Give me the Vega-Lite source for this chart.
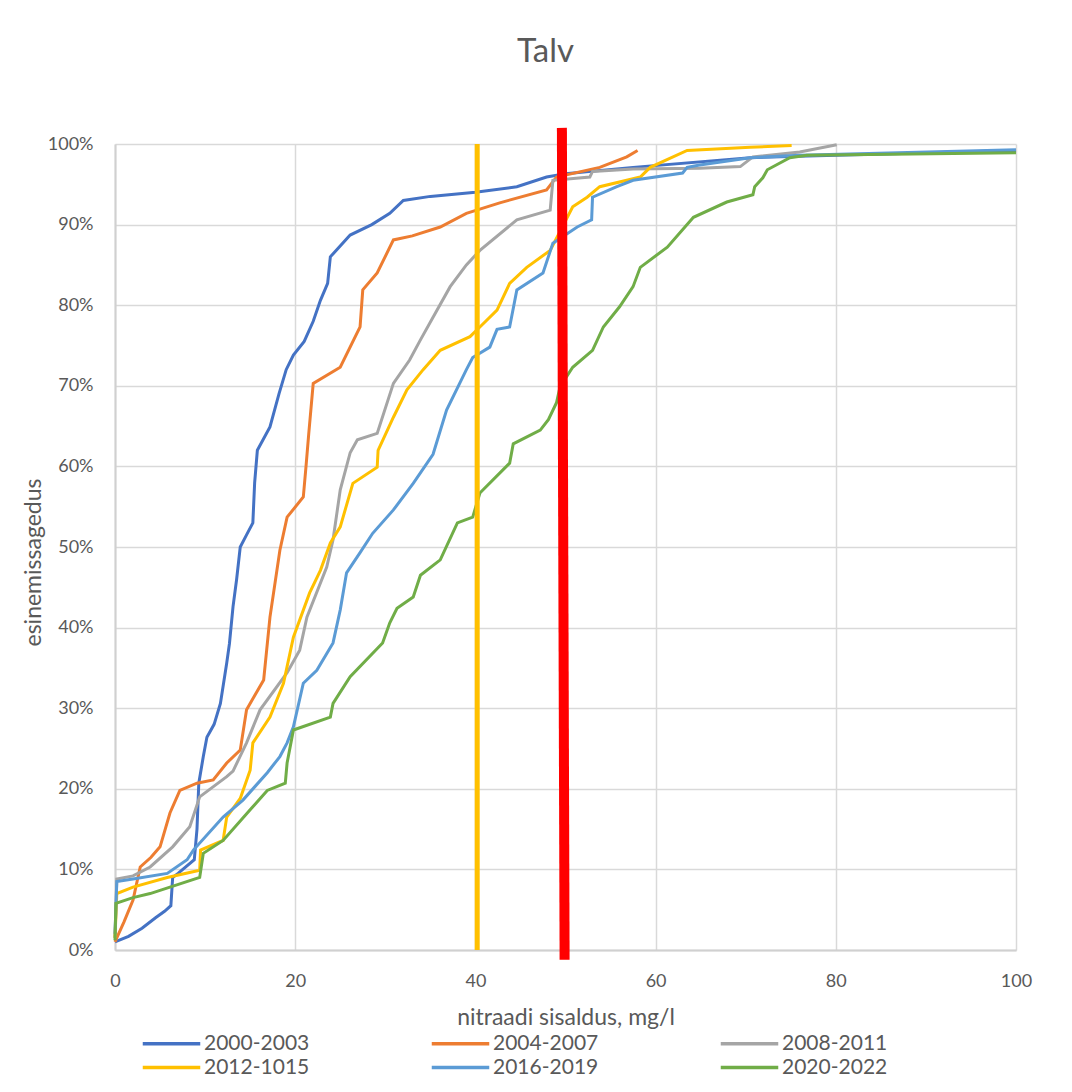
{
  "$schema": "https://vega.github.io/schema/vega-lite/v6.json",
  "width": 901,
  "height": 806,
  "autosize": "none",
  "padding": {"left": 115, "top": 144, "right": 56, "bottom": 142},
  "background": "white",
  "config": {
    "font": "Lato",
    "view": {"stroke": null},
    "axis": {
      "labelFont": "Lato", "labelFontSize": 18, "labelColor": "#595959",
      "titleFont": "Lato", "titleFontSize": 23, "titleColor": "#595959", "titleFontWeight": "normal",
      "gridColor": "#D9D9D9", "gridWidth": 1.5, "domainColor": "#D0D0D0", "domainWidth": 2,
      "ticks": false, "tickSize": 0, "labelFlush": false
    }
  },
  "title": {
    "text": "Talv", "font": "Lato", "fontSize": 33, "fontWeight": "normal", "color": "#595959",
    "anchor": "middle", "frame": "group", "offset": 39, "dx": -20
  },
  "datasets": {
    "cdf": [
      {"s": "2000-2003", "x": 0, "p": 0.010}, {"s": "2000-2003", "x": 1.5, "p": 0.017}, {"s": "2000-2003", "x": 3, "p": 0.027},
      {"s": "2000-2003", "x": 4.5, "p": 0.040}, {"s": "2000-2003", "x": 5.5, "p": 0.048}, {"s": "2000-2003", "x": 6.2, "p": 0.055},
      {"s": "2000-2003", "x": 6.4, "p": 0.090}, {"s": "2000-2003", "x": 7, "p": 0.095}, {"s": "2000-2003", "x": 8.8, "p": 0.112},
      {"s": "2000-2003", "x": 9.1, "p": 0.150}, {"s": "2000-2003", "x": 9.3, "p": 0.207}, {"s": "2000-2003", "x": 9.8, "p": 0.240},
      {"s": "2000-2003", "x": 10.2, "p": 0.264}, {"s": "2000-2003", "x": 11, "p": 0.280}, {"s": "2000-2003", "x": 11.7, "p": 0.306},
      {"s": "2000-2003", "x": 12.4, "p": 0.356}, {"s": "2000-2003", "x": 12.7, "p": 0.380}, {"s": "2000-2003", "x": 13.1, "p": 0.426},
      {"s": "2000-2003", "x": 13.5, "p": 0.460}, {"s": "2000-2003", "x": 13.9, "p": 0.500}, {"s": "2000-2003", "x": 14.6, "p": 0.515},
      {"s": "2000-2003", "x": 15.3, "p": 0.530}, {"s": "2000-2003", "x": 15.5, "p": 0.580}, {"s": "2000-2003", "x": 15.8, "p": 0.620},
      {"s": "2000-2003", "x": 17.2, "p": 0.649}, {"s": "2000-2003", "x": 18.2, "p": 0.690}, {"s": "2000-2003", "x": 19, "p": 0.720},
      {"s": "2000-2003", "x": 19.8, "p": 0.738}, {"s": "2000-2003", "x": 21, "p": 0.755}, {"s": "2000-2003", "x": 22, "p": 0.780},
      {"s": "2000-2003", "x": 22.8, "p": 0.806}, {"s": "2000-2003", "x": 23.6, "p": 0.827}, {"s": "2000-2003", "x": 23.9, "p": 0.860},
      {"s": "2000-2003", "x": 26.1, "p": 0.887}, {"s": "2000-2003", "x": 28.5, "p": 0.900}, {"s": "2000-2003", "x": 30.5, "p": 0.914},
      {"s": "2000-2003", "x": 32, "p": 0.930}, {"s": "2000-2003", "x": 35, "p": 0.935}, {"s": "2000-2003", "x": 40, "p": 0.940},
      {"s": "2000-2003", "x": 44.6, "p": 0.947}, {"s": "2000-2003", "x": 47.9, "p": 0.959}, {"s": "2000-2003", "x": 50, "p": 0.963},
      {"s": "2000-2003", "x": 57.5, "p": 0.971}, {"s": "2000-2003", "x": 70.5, "p": 0.983}, {"s": "2000-2003", "x": 80, "p": 0.986},
      {"s": "2000-2003", "x": 100, "p": 0.992},

      {"s": "2004-2007", "x": 0, "p": 0.010}, {"s": "2004-2007", "x": 1, "p": 0.035}, {"s": "2004-2007", "x": 2, "p": 0.062},
      {"s": "2004-2007", "x": 2.8, "p": 0.103}, {"s": "2004-2007", "x": 4, "p": 0.115}, {"s": "2004-2007", "x": 5, "p": 0.128},
      {"s": "2004-2007", "x": 6.1, "p": 0.170}, {"s": "2004-2007", "x": 7.2, "p": 0.198}, {"s": "2004-2007", "x": 9.1, "p": 0.207},
      {"s": "2004-2007", "x": 10.9, "p": 0.211}, {"s": "2004-2007", "x": 12.4, "p": 0.232}, {"s": "2004-2007", "x": 13.9, "p": 0.248},
      {"s": "2004-2007", "x": 14.6, "p": 0.298}, {"s": "2004-2007", "x": 16.5, "p": 0.335}, {"s": "2004-2007", "x": 17.2, "p": 0.413},
      {"s": "2004-2007", "x": 18.3, "p": 0.496}, {"s": "2004-2007", "x": 19.1, "p": 0.537}, {"s": "2004-2007", "x": 20.9, "p": 0.562},
      {"s": "2004-2007", "x": 21.2, "p": 0.600}, {"s": "2004-2007", "x": 21.5, "p": 0.640}, {"s": "2004-2007", "x": 22, "p": 0.703},
      {"s": "2004-2007", "x": 25, "p": 0.723}, {"s": "2004-2007", "x": 27.2, "p": 0.773}, {"s": "2004-2007", "x": 27.5, "p": 0.819},
      {"s": "2004-2007", "x": 29.1, "p": 0.840}, {"s": "2004-2007", "x": 30.9, "p": 0.881}, {"s": "2004-2007", "x": 33, "p": 0.886},
      {"s": "2004-2007", "x": 36.1, "p": 0.897}, {"s": "2004-2007", "x": 39, "p": 0.914}, {"s": "2004-2007", "x": 42.7, "p": 0.927},
      {"s": "2004-2007", "x": 47.9, "p": 0.943}, {"s": "2004-2007", "x": 49, "p": 0.959}, {"s": "2004-2007", "x": 53.8, "p": 0.971},
      {"s": "2004-2007", "x": 56.8, "p": 0.984}, {"s": "2004-2007", "x": 58, "p": 0.992},

      {"s": "2008-2011", "x": 0, "p": 0.015}, {"s": "2008-2011", "x": 0.2, "p": 0.088}, {"s": "2008-2011", "x": 2, "p": 0.092},
      {"s": "2008-2011", "x": 3.9, "p": 0.103}, {"s": "2008-2011", "x": 6.4, "p": 0.128}, {"s": "2008-2011", "x": 8.3, "p": 0.153},
      {"s": "2008-2011", "x": 9.4, "p": 0.190}, {"s": "2008-2011", "x": 12.4, "p": 0.215}, {"s": "2008-2011", "x": 13.1, "p": 0.222},
      {"s": "2008-2011", "x": 14.6, "p": 0.257}, {"s": "2008-2011", "x": 16.1, "p": 0.298}, {"s": "2008-2011", "x": 19.1, "p": 0.344},
      {"s": "2008-2011", "x": 20.5, "p": 0.372}, {"s": "2008-2011", "x": 21.3, "p": 0.413}, {"s": "2008-2011", "x": 23.5, "p": 0.475},
      {"s": "2008-2011", "x": 24.2, "p": 0.509}, {"s": "2008-2011", "x": 25, "p": 0.571}, {"s": "2008-2011", "x": 26.1, "p": 0.617},
      {"s": "2008-2011", "x": 26.9, "p": 0.633}, {"s": "2008-2011", "x": 29.1, "p": 0.641}, {"s": "2008-2011", "x": 30.9, "p": 0.703},
      {"s": "2008-2011", "x": 32.7, "p": 0.732}, {"s": "2008-2011", "x": 33.9, "p": 0.757}, {"s": "2008-2011", "x": 35.3, "p": 0.785},
      {"s": "2008-2011", "x": 37.2, "p": 0.823}, {"s": "2008-2011", "x": 39, "p": 0.850}, {"s": "2008-2011", "x": 40.5, "p": 0.868},
      {"s": "2008-2011", "x": 44.6, "p": 0.906}, {"s": "2008-2011", "x": 48.3, "p": 0.918}, {"s": "2008-2011", "x": 48.6, "p": 0.955},
      {"s": "2008-2011", "x": 52.7, "p": 0.959}, {"s": "2008-2011", "x": 53, "p": 0.966}, {"s": "2008-2011", "x": 57.5, "p": 0.969},
      {"s": "2008-2011", "x": 64.9, "p": 0.970}, {"s": "2008-2011", "x": 69.4, "p": 0.972}, {"s": "2008-2011", "x": 70.8, "p": 0.984},
      {"s": "2008-2011", "x": 76, "p": 0.990}, {"s": "2008-2011", "x": 80.1, "p": 0.999},

      {"s": "2012-1015", "x": 0, "p": 0.015}, {"s": "2012-1015", "x": 0.2, "p": 0.070}, {"s": "2012-1015", "x": 2, "p": 0.078},
      {"s": "2012-1015", "x": 5.8, "p": 0.090}, {"s": "2012-1015", "x": 9.4, "p": 0.099}, {"s": "2012-1015", "x": 9.5, "p": 0.124},
      {"s": "2012-1015", "x": 12, "p": 0.136}, {"s": "2012-1015", "x": 12.4, "p": 0.165}, {"s": "2012-1015", "x": 13.9, "p": 0.188},
      {"s": "2012-1015", "x": 15, "p": 0.223}, {"s": "2012-1015", "x": 15.3, "p": 0.257}, {"s": "2012-1015", "x": 17.2, "p": 0.289},
      {"s": "2012-1015", "x": 18.7, "p": 0.331}, {"s": "2012-1015", "x": 19.8, "p": 0.388}, {"s": "2012-1015", "x": 21.6, "p": 0.443},
      {"s": "2012-1015", "x": 22.8, "p": 0.471}, {"s": "2012-1015", "x": 23.9, "p": 0.505}, {"s": "2012-1015", "x": 25, "p": 0.525},
      {"s": "2012-1015", "x": 26.4, "p": 0.579}, {"s": "2012-1015", "x": 29.1, "p": 0.599}, {"s": "2012-1015", "x": 29.2, "p": 0.620},
      {"s": "2012-1015", "x": 30.9, "p": 0.661}, {"s": "2012-1015", "x": 32.4, "p": 0.695}, {"s": "2012-1015", "x": 34.2, "p": 0.720},
      {"s": "2012-1015", "x": 36.1, "p": 0.744}, {"s": "2012-1015", "x": 39.4, "p": 0.761}, {"s": "2012-1015", "x": 40.5, "p": 0.773},
      {"s": "2012-1015", "x": 42.4, "p": 0.794}, {"s": "2012-1015", "x": 43.8, "p": 0.827}, {"s": "2012-1015", "x": 45.7, "p": 0.847},
      {"s": "2012-1015", "x": 48.3, "p": 0.868}, {"s": "2012-1015", "x": 50.2, "p": 0.909}, {"s": "2012-1015", "x": 50.8, "p": 0.922},
      {"s": "2012-1015", "x": 52.4, "p": 0.934}, {"s": "2012-1015", "x": 53.8, "p": 0.947}, {"s": "2012-1015", "x": 58.3, "p": 0.959},
      {"s": "2012-1015", "x": 59.4, "p": 0.971}, {"s": "2012-1015", "x": 63.5, "p": 0.992}, {"s": "2012-1015", "x": 70.5, "p": 0.996},
      {"s": "2012-1015", "x": 75.1, "p": 0.998},

      {"s": "2016-2019", "x": 0, "p": 0.020}, {"s": "2016-2019", "x": 0.2, "p": 0.085}, {"s": "2016-2019", "x": 2, "p": 0.088},
      {"s": "2016-2019", "x": 5.8, "p": 0.095}, {"s": "2016-2019", "x": 8, "p": 0.112}, {"s": "2016-2019", "x": 8.7, "p": 0.124},
      {"s": "2016-2019", "x": 12, "p": 0.165}, {"s": "2016-2019", "x": 14.2, "p": 0.186}, {"s": "2016-2019", "x": 16.9, "p": 0.220},
      {"s": "2016-2019", "x": 18.3, "p": 0.240}, {"s": "2016-2019", "x": 19.1, "p": 0.257}, {"s": "2016-2019", "x": 19.8, "p": 0.277},
      {"s": "2016-2019", "x": 20.9, "p": 0.331}, {"s": "2016-2019", "x": 22.4, "p": 0.347}, {"s": "2016-2019", "x": 24.2, "p": 0.381},
      {"s": "2016-2019", "x": 25, "p": 0.422}, {"s": "2016-2019", "x": 25.7, "p": 0.468}, {"s": "2016-2019", "x": 27.2, "p": 0.493},
      {"s": "2016-2019", "x": 28.6, "p": 0.517}, {"s": "2016-2019", "x": 30.9, "p": 0.546}, {"s": "2016-2019", "x": 33.1, "p": 0.579},
      {"s": "2016-2019", "x": 35.3, "p": 0.615}, {"s": "2016-2019", "x": 36.8, "p": 0.670}, {"s": "2016-2019", "x": 39, "p": 0.720},
      {"s": "2016-2019", "x": 39.7, "p": 0.735}, {"s": "2016-2019", "x": 41.6, "p": 0.748}, {"s": "2016-2019", "x": 42.4, "p": 0.770},
      {"s": "2016-2019", "x": 43.8, "p": 0.773}, {"s": "2016-2019", "x": 44.6, "p": 0.819}, {"s": "2016-2019", "x": 47.5, "p": 0.840},
      {"s": "2016-2019", "x": 48.6, "p": 0.877}, {"s": "2016-2019", "x": 51.3, "p": 0.897}, {"s": "2016-2019", "x": 52.9, "p": 0.906},
      {"s": "2016-2019", "x": 53, "p": 0.934}, {"s": "2016-2019", "x": 55.7, "p": 0.947}, {"s": "2016-2019", "x": 57.5, "p": 0.955},
      {"s": "2016-2019", "x": 63, "p": 0.964}, {"s": "2016-2019", "x": 63.5, "p": 0.971}, {"s": "2016-2019", "x": 64.9, "p": 0.974},
      {"s": "2016-2019", "x": 70.5, "p": 0.983}, {"s": "2016-2019", "x": 76, "p": 0.986}, {"s": "2016-2019", "x": 100, "p": 0.993},

      {"s": "2020-2022", "x": 0, "p": 0.012}, {"s": "2020-2022", "x": 0.1, "p": 0.058}, {"s": "2020-2022", "x": 2, "p": 0.065},
      {"s": "2020-2022", "x": 3.9, "p": 0.070}, {"s": "2020-2022", "x": 6.1, "p": 0.078}, {"s": "2020-2022", "x": 9.4, "p": 0.090},
      {"s": "2020-2022", "x": 9.8, "p": 0.120}, {"s": "2020-2022", "x": 12, "p": 0.136}, {"s": "2020-2022", "x": 15, "p": 0.174},
      {"s": "2020-2022", "x": 16.9, "p": 0.198}, {"s": "2020-2022", "x": 18.9, "p": 0.207}, {"s": "2020-2022", "x": 19.1, "p": 0.232},
      {"s": "2020-2022", "x": 19.8, "p": 0.273}, {"s": "2020-2022", "x": 23.9, "p": 0.289}, {"s": "2020-2022", "x": 24.2, "p": 0.306},
      {"s": "2020-2022", "x": 26.1, "p": 0.339}, {"s": "2020-2022", "x": 29.7, "p": 0.381}, {"s": "2020-2022", "x": 30.5, "p": 0.406},
      {"s": "2020-2022", "x": 31.3, "p": 0.424}, {"s": "2020-2022", "x": 33.1, "p": 0.438}, {"s": "2020-2022", "x": 33.9, "p": 0.465},
      {"s": "2020-2022", "x": 36.1, "p": 0.484}, {"s": "2020-2022", "x": 38, "p": 0.530}, {"s": "2020-2022", "x": 39.7, "p": 0.537},
      {"s": "2020-2022", "x": 40.5, "p": 0.567}, {"s": "2020-2022", "x": 43.8, "p": 0.604}, {"s": "2020-2022", "x": 44.2, "p": 0.628},
      {"s": "2020-2022", "x": 47.2, "p": 0.645}, {"s": "2020-2022", "x": 48.1, "p": 0.658}, {"s": "2020-2022", "x": 49, "p": 0.679},
      {"s": "2020-2022", "x": 49.4, "p": 0.699}, {"s": "2020-2022", "x": 50.8, "p": 0.723}, {"s": "2020-2022", "x": 53, "p": 0.744},
      {"s": "2020-2022", "x": 54.2, "p": 0.773}, {"s": "2020-2022", "x": 56, "p": 0.798}, {"s": "2020-2022", "x": 57.5, "p": 0.823},
      {"s": "2020-2022", "x": 58.3, "p": 0.847}, {"s": "2020-2022", "x": 61.3, "p": 0.872}, {"s": "2020-2022", "x": 64.2, "p": 0.909},
      {"s": "2020-2022", "x": 67.9, "p": 0.928}, {"s": "2020-2022", "x": 70.8, "p": 0.937}, {"s": "2020-2022", "x": 71, "p": 0.947},
      {"s": "2020-2022", "x": 71.9, "p": 0.958}, {"s": "2020-2022", "x": 72.4, "p": 0.968}, {"s": "2020-2022", "x": 74.9, "p": 0.983},
      {"s": "2020-2022", "x": 76.8, "p": 0.986}, {"s": "2020-2022", "x": 100, "p": 0.989}
    ],
    "yellowRef": [{"x": 40.2, "p": 0.0}, {"x": 40.2, "p": 1.0}],
    "redRef": [{"x": 49.9, "p": -0.012}, {"x": 49.6, "p": 1.02}]
  },
  "encoding": {
    "x": {
      "field": "x", "type": "quantitative",
      "scale": {"domain": [0, 100], "nice": false, "zero": false},
      "axis": {"values": [0, 20, 40, 60, 80, 100], "title": "nitraadi sisaldus, mg/l", "labelPadding": 22, "titlePadding": 16}
    },
    "y": {
      "field": "p", "type": "quantitative",
      "scale": {"domain": [0, 1], "nice": false, "zero": false},
      "axis": {"values": [0, 0.1, 0.2, 0.3, 0.4, 0.5, 0.6, 0.7, 0.8, 0.9, 1.0], "format": ".0%", "title": "esinemissagedus", "labelPadding": 22, "titlePadding": 2, "titleY": 418}
    }
  },
  "layer": [
    {
      "data": {"name": "cdf"},
      "mark": {"type": "line", "strokeWidth": 3, "interpolate": "linear"},
      "encoding": {
        "color": {
          "field": "s", "type": "nominal",
          "scale": {
            "domain": ["2000-2003", "2004-2007", "2008-2011", "2012-1015", "2016-2019", "2020-2022"],
            "range": ["#4472C4", "#ED7D31", "#A5A5A5", "#FFC000", "#5B9BD5", "#70AD47"]
          },
          "legend": {
            "title": null, "orient": "none", "legendX": 43, "legendY": 886,
            "direction": "horizontal", "columns": 3, "columnPadding": 114, "rowPadding": 0,
            "symbolType": "M-2.5,0H2.5", "symbolSize": 529, "symbolStrokeWidth": 3.5,
            "labelFont": "Lato", "labelFontSize": 21, "labelColor": "#595959", "labelOffset": 19
          }
        },
        "order": {"field": "p", "type": "quantitative"}
      }
    },
    {
      "data": {"name": "yellowRef"},
      "mark": {"type": "line", "color": "#FFC000", "strokeWidth": 5},
      "encoding": {"order": {"field": "p", "type": "quantitative"}}
    },
    {
      "data": {"name": "redRef"},
      "mark": {"type": "line", "color": "#FF0000", "strokeWidth": 10},
      "encoding": {"order": {"field": "p", "type": "quantitative"}}
    }
  ]
}
